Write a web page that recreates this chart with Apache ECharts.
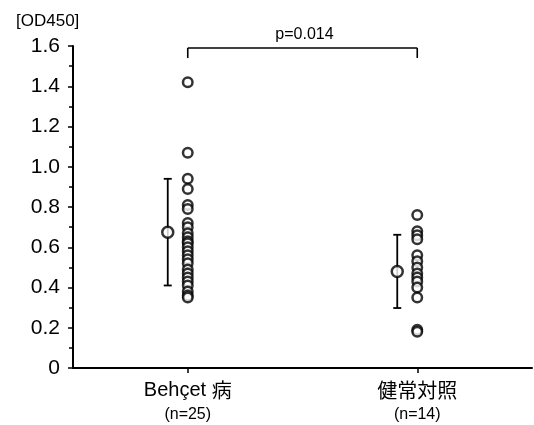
<!DOCTYPE html>
<html>
<head>
<meta charset="utf-8">
<script src="https://cdn.jsdelivr.net/npm/echarts@6/dist/echarts.min.js"></script>
<style>
  html, body { margin: 0; padding: 0; background: #fff; }
  #main { width: 534px; height: 425px; }
</style>
</head>
<body>
<div id="main"></div>
<script>
// 分组 (x 轴位置 1 和 3)
var groups = ['Behçet 病', '健常対照'];
var groupN = ['(n=25)', '(n=14)'];
var groupPos = [1, 3];

// 各个样本的 OD450 值
var behcetVals = [1.42, 1.07, 0.94, 0.89, 0.81, 0.79, 0.72, 0.70, 0.67, 0.65, 0.63, 0.62, 0.60,
                  0.58, 0.56, 0.54, 0.52, 0.49, 0.47, 0.45, 0.43, 0.41, 0.38, 0.36, 0.35];
var healthyVals = [0.76, 0.68, 0.66, 0.64, 0.56, 0.53, 0.50, 0.47, 0.45, 0.43, 0.40, 0.35, 0.19, 0.18];

// 平均值 ± SD
var means = [0.675, 0.48];
var sds = [0.265, 0.182];

// 显著性
var pText = 'p=0.014';
var bracketY = 1.59;

var font = 'Liberation Sans, Arial, Noto Sans CJK JP, sans-serif';
var cjk = 'Noto Sans CJK JP, sans-serif';

function pts (x, vals) {
  return vals.map(function (v) { return [x, v]; });
}

var circleStyle = { color: '#fff', borderColor: '#000', borderWidth: 2.5 };

var myChart = echarts.init(document.getElementById('main'));

var option = {
  backgroundColor: '#fff',
  animation: false,
  title: {
    text: '[OD450]',
    left: 11, top: 8,
    textStyle: { fontFamily: font, fontSize: 17, fontWeight: 'normal', color: '#000' }
  },
  grid: { left: 73, right: 2, top: 46, bottom: 57, outerBoundsMode: 'none' },
  xAxis: {
    type: 'value', min: 0, max: 4,
    splitLine: { show: false },
    axisLine: { lineStyle: { color: '#000', width: 2 } },
    axisTick: { customValues: groupPos, length: 5, lineStyle: { color: '#000', width: 1.5 } },
    axisLabel: {
      customValues: groupPos,
      margin: 9,
      formatter: function (v) {
        var i = groupPos.indexOf(v);
        if (i < 0) return '';
        var name = groups[i];
        if (i === 0) return '{a|Behçet }{c|病}\n{b|' + groupN[i] + '}';
        return '{c|' + name + '}\n{b|' + groupN[i] + '}';
      },
      rich: {
        a: { fontFamily: font, fontSize: 20, color: '#000', lineHeight: 26 },
        c: { fontFamily: cjk, fontSize: 20, color: '#000', lineHeight: 26 },
        b: { fontFamily: font, fontSize: 16, color: '#000', lineHeight: 24 }
      }
    }
  },
  yAxis: {
    type: 'value', min: 0, max: 1.6, interval: 0.2,
    splitLine: { show: false },
    axisLine: { show: true, lineStyle: { color: '#000', width: 2 } },
    axisTick: { show: true, length: 5, lineStyle: { color: '#000', width: 1.5 } },
    minorTick: { show: true, splitNumber: 2, length: 4, lineStyle: { color: '#000', width: 1.5 } },
    axisLabel: {
      margin: 13,
      fontFamily: font, fontSize: 21, color: '#000',
      formatter: function (v) { return v === 0 ? '0' : v.toFixed(1); }
    }
  },
  series: [
    {
      // 误差线
      type: 'custom',
      data: groupPos.map(function (x, i) { return [x, means[i], sds[i]]; }),
      renderItem: function (params, api) {
        var x = api.coord([api.value(0), 0])[0] - 20;
        var top = api.coord([api.value(0), api.value(1) + api.value(2)])[1];
        var bot = api.coord([api.value(0), api.value(1) - api.value(2)])[1];
        var st = { stroke: '#000', lineWidth: 1.8 };
        return {
          type: 'group',
          children: [
            { type: 'line', shape: { x1: x, y1: top, x2: x, y2: bot }, style: st },
            { type: 'line', shape: { x1: x - 4, y1: top, x2: x + 4, y2: top }, style: st },
            { type: 'line', shape: { x1: x - 4, y1: bot, x2: x + 4, y2: bot }, style: st }
          ]
        };
      },
      z: 2
    },
    {
      // 平均值
      type: 'scatter',
      data: groupPos.map(function (x, i) { return [x, means[i]]; }),
      symbol: 'circle', symbolSize: 11, symbolOffset: [-20, 0],
      itemStyle: circleStyle, z: 3
    },
    {
      type: 'scatter', data: pts(groupPos[0], behcetVals),
      symbol: 'circle', symbolSize: 9.5, itemStyle: circleStyle, z: 4
    },
    {
      type: 'scatter', data: pts(groupPos[1], healthyVals),
      symbol: 'circle', symbolSize: 9.5, itemStyle: circleStyle, z: 4
    },
    {
      // 显著性括号
      type: 'custom',
      clip: false,
      data: [[groupPos[0], groupPos[1], bracketY]],
      renderItem: function (params, api) {
        var p1 = api.coord([api.value(0), api.value(2)]);
        var p2 = api.coord([api.value(1), api.value(2)]);
        var st = { stroke: '#000', lineWidth: 1.6 };
        return {
          type: 'group',
          children: [
            { type: 'line', shape: { x1: p1[0], y1: p1[1], x2: p2[0], y2: p2[1] }, style: st },
            { type: 'line', shape: { x1: p1[0], y1: p1[1], x2: p1[0], y2: p1[1] + 10 }, style: st },
            { type: 'line', shape: { x1: p2[0], y1: p2[1], x2: p2[0], y2: p2[1] + 10 }, style: st },
            {
              type: 'text',
              style: {
                x: (p1[0] + p2[0]) / 2 + 2, y: p1[1] - 5,
                text: pText, textAlign: 'center', textVerticalAlign: 'bottom',
                font: '16px ' + font, fill: '#000'
              }
            }
          ]
        };
      },
      z: 5
    }
  ]
};

myChart.setOption(option);
</script>
</body>
</html>
